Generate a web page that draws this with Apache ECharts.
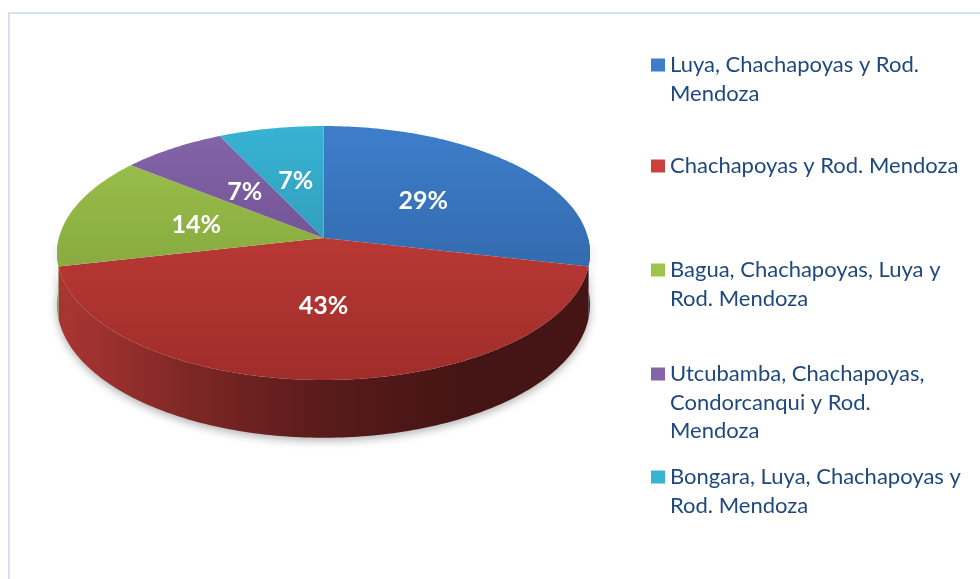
<!DOCTYPE html>
<html>
<head>
<meta charset="utf-8">
<script src="https://cdn.jsdelivr.net/npm/echarts@6/dist/echarts.min.js"></script>
<style>
  html, body { margin: 0; padding: 0; background: #fff; }
  #main { width: 980px; height: 579px; }
</style>
</head>
<body>
<div id="main"></div>
<script>
// casos por grupo de provincias
const counts = [4, 6, 2, 1, 1]
const names = [
  'Luya, Chachapoyas y Rod. Mendoza',
  'Chachapoyas y Rod. Mendoza',
  'Bagua, Chachapoyas, Luya y Rod. Mendoza',
  'Utcubamba, Chachapoyas, Condorcanqui y Rod. Mendoza',
  'Bongara, Luya, Chachapoyas y Rod. Mendoza'
]
const legendLines = [
  ['Luya, Chachapoyas y Rod.', 'Mendoza'],
  ['Chachapoyas y Rod. Mendoza'],
  ['Bagua, Chachapoyas, Luya y', 'Rod. Mendoza'],
  ['Utcubamba, Chachapoyas,', 'Condorcanqui y Rod.', 'Mendoza'],
  ['Bongara, Luya, Chachapoyas y', 'Rod. Mendoza']
]
const legendFirstLine = [65, 166, 270, 374, 477]
const topColors = [
  ['#3d7ecb', '#2c5c99'],
  ['#cc413c', '#9f2d2a'],
  ['#9fc44c', '#769638'],
  ['#8465aa', '#5e427e'],
  ['#37b3d3', '#2988a0']
]
const sideColors = [
  ['#2b5689', '#1d3a5e'],
  ['#ab3633', '#451414'],
  ['#7e9c3c', '#4f6325'],
  ['#6a4c8c', '#3f2c55'],
  ['#2c95b0', '#1c5f70']
]

// geometria del pastel 3D (perspectiva)
const CX = 323.5, CY = 238, SX = 264.6, SY = 125.2, K = 0.118, DEPTH = 51
const total = counts.reduce((a, b) => a + b, 0)
const starts = []
counts.reduce((acc, v, i) => { starts[i] = acc; return acc + v }, 0)

function project (deg, r, drop) {
  const t = deg * Math.PI / 180
  const u = Math.sin(t) * r, v = Math.cos(t) * r
  const w = 1 + K * v
  return [CX + SX * u / w, CY - SY * v / w + drop / w]
}
function arc (a, b, drop) {
  const pts = []
  const n = Math.max(2, Math.ceil(b - a))
  for (let i = 0; i <= n; i++) pts.push(project(a + (b - a) * i / n, 1, drop))
  return pts
}

const LH = 28.5
const legends = names.map((n, i) => {
  const lines = legendLines[i]
  // lineas vacias arriba para que el cuadro quede junto a la primera linea
  const blank = new Array(lines.length - 1).fill(' ')
  return {
    data: [n],
    left: 651,
    top: legendFirstLine[i] - (2 * lines.length - 1) * LH / 2,
    padding: 0,
    icon: 'rect',
    itemWidth: 14,
    itemHeight: 13,
    selectedMode: false,
    formatter: () => blank.concat(lines).join('\n'),
    textStyle: {
      fontFamily: 'Lato',
      fontSize: 22,
      lineHeight: LH,
      color: '#1f497d'
    }
  }
})

const series = names.map((n, i) => ({
  type: 'custom',
  name: n,
  coordinateSystem: 'none',
  itemStyle: { color: topColors[i][0] },
  data: [counts[i]],
  renderItem: function (params, api) {
    const val = api.value(0)
    const a = starts[i] / total * 360
    const b = (starts[i] + val) / total * 360
    const children = []
    const sa = Math.max(a, 90), sb = Math.min(b, 270)
    if (sa < sb) {
      const top = arc(sa, sb, 0)
      const bottom = arc(sa, sb, DEPTH).reverse()
      children.push({
        type: 'polygon',
        z2: 0,
        shape: { points: top.concat(bottom) },
        style: {
          fill: new echarts.graphic.LinearGradient(57, 0, 590, 0, [
            { offset: 0, color: sideColors[i][0] },
            { offset: 0.25, color: echarts.color.lerp(0.45, [sideColors[i][0], sideColors[i][1]]) },
            { offset: 0.5, color: echarts.color.lerp(0.8, [sideColors[i][0], sideColors[i][1]]) },
            { offset: 0.75, color: sideColors[i][1] },
            { offset: 1, color: sideColors[i][1] }
          ], true),
          shadowBlur: 8,
          shadowColor: 'rgba(0,0,0,0.3)',
          shadowOffsetY: 3
        }
      })
    }
    children.push({
      type: 'polygon',
      z2: 10,
      shape: { points: [[CX, CY]].concat(arc(a, b, 0)) },
      style: {
        fill: new echarts.graphic.LinearGradient(0, 126, 0, 380, [
          { offset: 0, color: topColors[i][0] },
          { offset: 1, color: topColors[i][1] }
        ], true)
      }
    })
    const m = project((a + b) / 2, 0.5, 0)
    children.push({
      type: 'text',
      z2: 20,
      x: m[0],
      y: m[1] + 1,
      style: {
        text: Math.round(val / total * 100) + '%',
        fill: '#ffffff',
        font: 'bold 25px Lato',
        align: 'center',
        verticalAlign: 'middle'
      }
    })
    return { type: 'group', children: children }
  }
}))

const chart = echarts.init(document.getElementById('main'))
chart.setOption({
  animation: false,
  backgroundColor: '#ffffff',
  graphic: [{
    type: 'rect',
    shape: { x: 9, y: 13, width: 1000, height: 600 },
    style: { fill: null, stroke: '#d5e2f1', lineWidth: 2 },
    silent: true
  }],
  legend: legends,
  series: series
})
window.addEventListener('resize', () => chart.resize())
</script>
</body>
</html>
